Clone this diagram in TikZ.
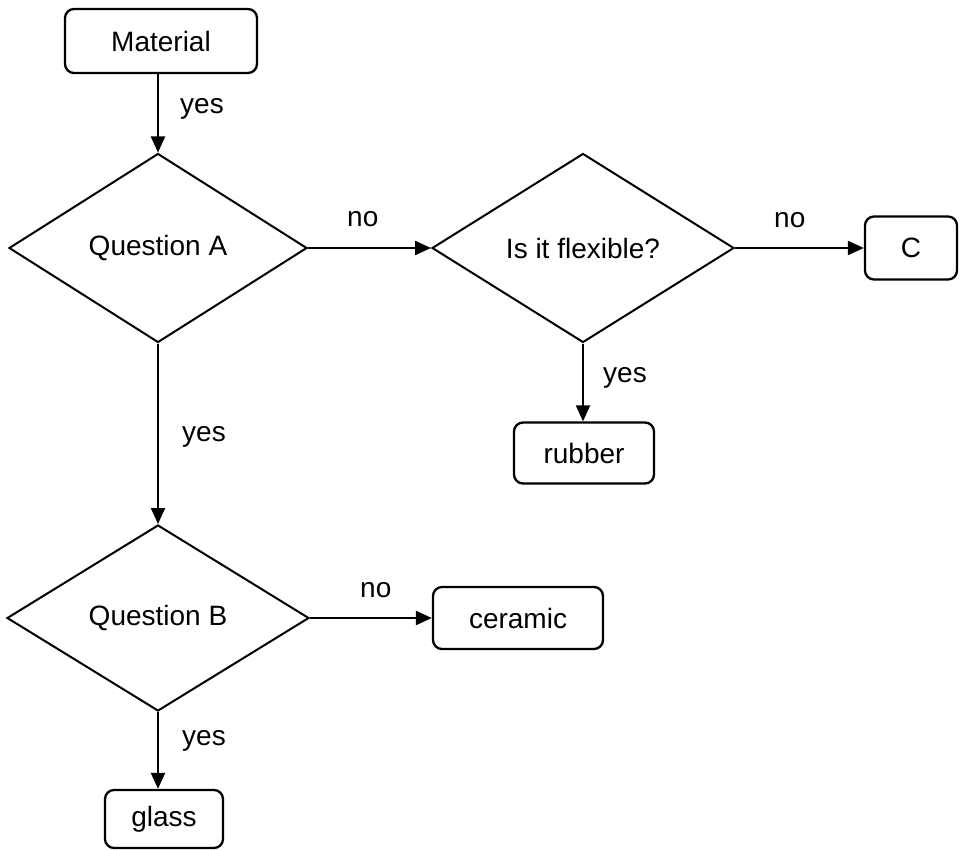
\documentclass[tikz,border=0pt]{standalone}
\usepackage{fontspec}
\setmainfont{Liberation Sans}
\usetikzlibrary{shapes.geometric,arrows.meta}
\begin{document}
\begin{tikzpicture}[x=1pt,y=-1pt,
  txt/.style={font=\fontsize{28}{32}\selectfont},
  box/.style={txt,draw,line width=2.3pt,rounded corners=9pt,inner sep=0pt},
  dec/.style={txt,draw,diamond,line width=2pt,inner sep=0pt},
  arr/.style={line width=2.2pt,-{Triangle[length=16pt,width=14pt]}},
  lbl/.style={txt,inner sep=0pt,anchor=base west}]
\useasboundingbox[fill=white] (0,0) rectangle (960,850);
% boxes
\node[box,minimum width=192pt,minimum height=64pt] (mat) at (161,41) {Material};
\node[box,minimum width=92pt,minimum height=63pt] (c) at (911,248) {C};
\node[box,minimum width=140pt,minimum height=61pt] (rub) at (584,453) {rubber};
\node[box,minimum width=170pt,minimum height=62pt] (cer) at (518,618) {ceramic};
\node[box,minimum width=118pt,minimum height=58pt] (gl) at (164,819) {glass};
% decisions
\node[dec,minimum width=298pt,minimum height=189pt] (qa) at (158,248) {Question A};
\node[dec,minimum width=302pt,minimum height=189pt] (flex) at (583,248) {Is it flexible?};
\node[dec,minimum width=302pt,minimum height=186pt] (qb) at (158,618) {Question B};
% connectors
\draw[arr] (mat.south -| qa.north) -- (qa.north);
\draw[arr] (qa.east) -- (flex.west);
\draw[arr] (flex.east) -- (c.west);
\draw[arr] (flex.south) -- (flex.south |- rub.north);
\draw[arr] (qa.south) -- (qb.north);
\draw[arr] (qb.east) -- (cer.west);
\draw[arr] (qb.south) -- (qb.south |- gl.north);
% labels
\node[lbl] (l1) at (180,114) {yes};
\node[lbl] (l2) at (347,227) {no};
\node[lbl] (l3) at (774,228) {no};
\node[lbl] (l4) at (603,382) {yes};
\node[lbl] (l5) at (182,441) {yes};
\node[lbl] (l6) at (360,597) {no};
\node[lbl] (l7) at (182,745) {yes};
\end{tikzpicture}
\end{document}
